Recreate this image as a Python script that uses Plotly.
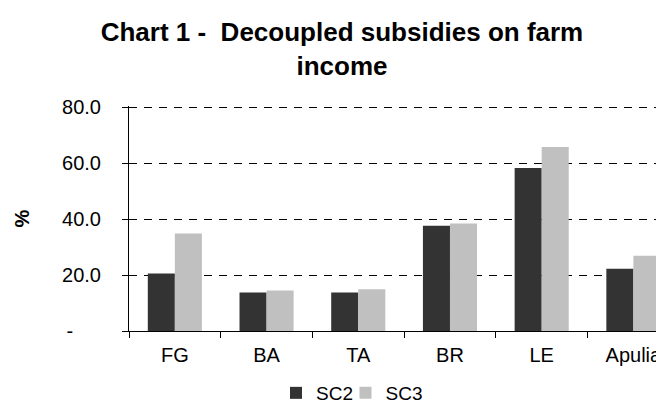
import plotly.graph_objects as go

categories = ["FG", "BA", "TA", "BR", "LE", "Apulia"]
sc2 = [20.6, 13.8, 13.8, 37.7, 58.3, 22.3]
sc3 = [34.9, 14.5, 14.9, 38.5, 65.8, 26.9]
series_names = ["SC2", "SC3"]
y_tickvals = [0, 20, 40, 60, 80]
y_ticktext = ["-\u00a0\u00a0\u00a0\u00a0\u00a0", "20.0", "40.0", "60.0", "80.0"]
title_text = "Chart 1 - \u00a0Decoupled subsidies on farm<br>income"

FONT = "Liberation Sans, Arial, sans-serif"

fig = go.Figure()
fig.add_trace(go.Bar(x=categories, y=sc2, name=series_names[0], legend="legend",
                     marker=dict(color="#333333", line=dict(width=0))))
fig.add_trace(go.Bar(x=categories, y=sc3, name=series_names[1], legend="legend2",
                     marker=dict(color="#C0C0C0", line=dict(width=0))))

legend_common = dict(orientation="h", xref="container", yref="container",
                     xanchor="left", y=-0.01, yanchor="bottom",
                     font=dict(size=19), bgcolor="rgba(0,0,0,0)",
                     itemclick=False, itemdoubleclick=False)

fig.update_layout(
    width=664, height=404,
    margin=dict(l=121, r=0, t=98, b=81, pad=0),
    paper_bgcolor="white", plot_bgcolor="white",
    font=dict(family=FONT, size=20, color="black"),
    barmode="group", bargap=0.41, bargroupgap=0,
    title=dict(text=title_text, x=0.503, xref="container", xanchor="center",
               y=1 - 33/404, yref="container", yanchor="middle",
               font=dict(family=FONT, size=26, color="black", weight="bold")),
    showlegend=True,
    legend=dict(x=268/664, **legend_common),
    legend2=dict(x=337.5/664, **legend_common),
    xaxis=dict(type="category", range=[-0.5, 5.421], showgrid=False,
               showline=True, linecolor="black", linewidth=1,
               ticks="outside", tickson="boundaries", ticklen=6,
               tickcolor="black", tickwidth=1, ticklabelstandoff=6,
               tickfont=dict(size=20), fixedrange=True),
    yaxis=dict(range=[0, 80.5], tickvals=y_tickvals, ticktext=y_ticktext,
               showgrid=True, gridcolor="black", gridwidth=1, griddash="8px,7px",
               showline=True, linecolor="black", linewidth=1,
               ticks="outside", ticklen=6, tickcolor="black", tickwidth=1,
               ticklabelstandoff=17, zeroline=False,
               tickfont=dict(size=20), fixedrange=True,
               title=dict(text="<b>%</b>", font=dict(size=20), standoff=27)),
)

fig.write_html("out.html")
